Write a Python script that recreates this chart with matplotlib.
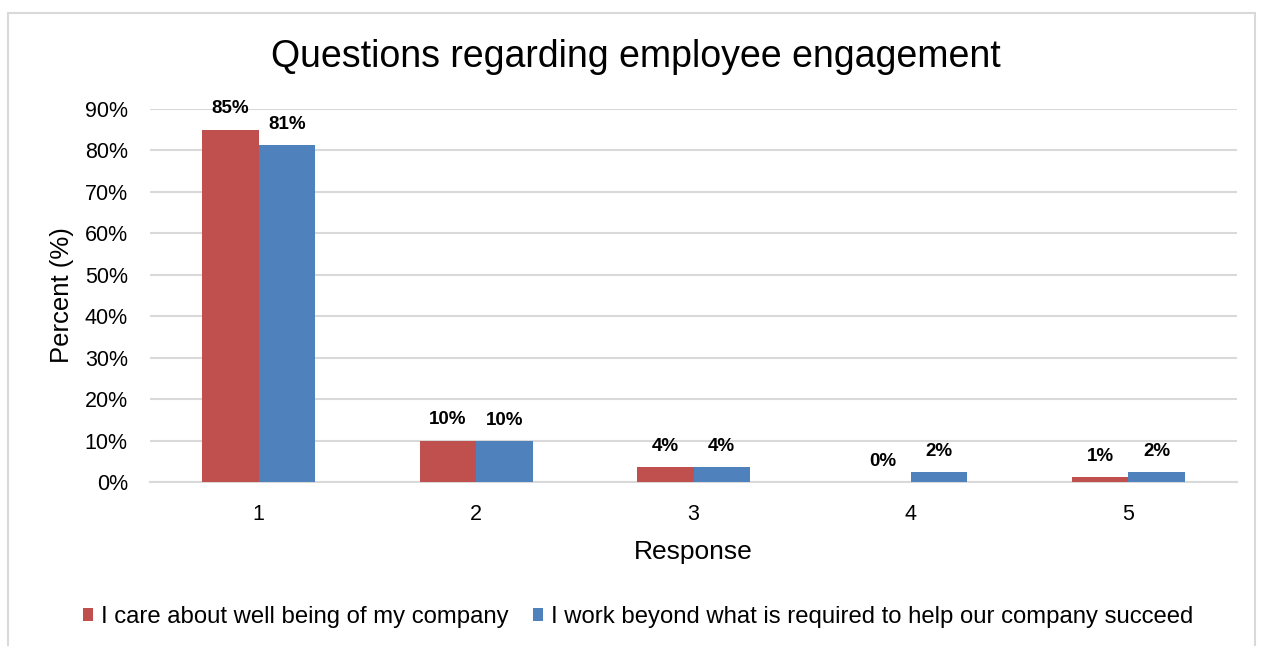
import matplotlib.pyplot as plt
import matplotlib.patches as mpatches
import numpy as np

plt.rcParams['font.family'] = ['Liberation Sans', 'DejaVu Sans']

# Survey results (percent of respondents per response level)
responses = ["1", "2", "3", "4", "5"]
care_pct = [85.0, 10.0, 3.6, 0.0, 1.2]
work_pct = [81.3, 9.9, 3.6, 2.4, 2.4]
series_names = ["I care about well being of my company",
                "I work beyond what is required to help our company succeed"]

red = '#C0504D'
blue = '#4F81BD'
grid_color = '#D9D9D9'

fig = plt.figure(figsize=(12.69, 6.46), dpi=100)
ax = fig.add_axes([150 / 1269, 164 / 646, 1087 / 1269, 373 / 646])

# outer chart border
fig.patches.append(mpatches.Rectangle((8 / 1269, -0.05), 1247 / 1269, (633 / 646) + 0.05,
                                      transform=fig.transFigure, fill=False,
                                      edgecolor=grid_color, linewidth=1.5))

x = np.arange(len(responses))
bar_width = 0.26
bars1 = ax.bar(x - bar_width / 2, [v / 100 for v in care_pct], bar_width, color=red,
               label=series_names[0], zorder=3)
bars2 = ax.bar(x + bar_width / 2, [v / 100 for v in work_pct], bar_width, color=blue,
               label=series_names[1], zorder=3)

# value labels above each bar
for bars, vals in [(bars1, care_pct), (bars2, work_pct)]:
    for b, v in zip(bars, vals):
        ax.annotate(f"{v:.0f}%", (b.get_x() + b.get_width() / 2, b.get_height()),
                    xytext=(0, 15), textcoords='offset points', ha='center', va='center',
                    fontsize=13.5, fontweight='bold')

ax.set_xlim(-0.5, len(responses) - 0.5)
ax.set_ylim(0, 0.9)
ax.set_yticks(np.arange(0, 0.91, 0.1))
ax.set_yticklabels([f"{int(round(t * 100))}%" for t in np.arange(0, 0.91, 0.1)])
ax.set_xticks(x)
ax.set_xticklabels(responses)
ax.tick_params(axis='both', length=0, labelsize=15.5)
ax.tick_params(axis='y', pad=16)
ax.tick_params(axis='x', pad=16)

ax.grid(axis='y', color=grid_color, linewidth=1.5, zorder=0)
for side in ['top', 'right', 'left']:
    ax.spines[side].set_visible(False)
ax.spines['bottom'].set_color(grid_color)
ax.spines['bottom'].set_linewidth(1.5)

ax.set_xlabel("Response", fontsize=19, labelpad=11)
ax.set_ylabel("Percent (%)", fontsize=18.5, labelpad=8)
fig.text(0.5012, 1 - 57 / 646, "Questions regarding employee engagement",
         ha='center', va='center', fontsize=27)

fig.legend(loc='center', bbox_to_anchor=(0.503, 1 - 617 / 646), ncol=2, frameon=False,
           fontsize=17.2, handlelength=0.42, handleheight=0.42, handletextpad=0.35,
           columnspacing=1.0)

fig.savefig("out.png", dpi=100)
